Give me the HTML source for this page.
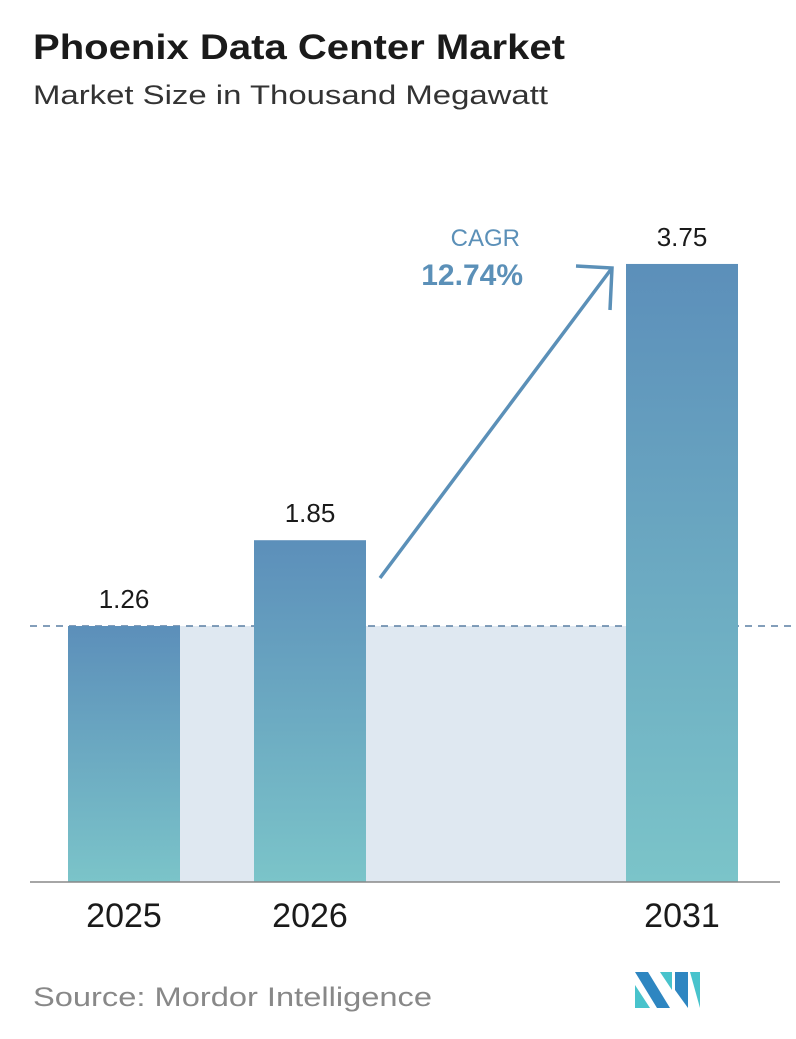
<!DOCTYPE html>
<html><head><meta charset="utf-8"><style>
body{margin:0;width:796px;height:1034px;background:#fff;font-family:"Liberation Sans",sans-serif;overflow:hidden}
</style></head><body>
<svg width="796" height="1034">
<defs><linearGradient id="g" x1="0" y1="0" x2="0" y2="1"><stop offset="0" stop-color="#5c8fba"/><stop offset="1" stop-color="#7bc4c9"/></linearGradient></defs>
<text x="33" y="59" font-size="35" font-weight="bold" fill="#1a1a1a" textLength="532" lengthAdjust="spacingAndGlyphs">Phoenix Data Center Market</text>
<text x="33" y="104" font-size="27" fill="#333" textLength="515" lengthAdjust="spacingAndGlyphs">Market Size in Thousand Megawatt</text>
<g id="plot"></g>
<text x="33" y="1006" font-size="27" fill="#888" textLength="399" lengthAdjust="spacingAndGlyphs">Source:  Mordor Intelligence</text>
<g>
<polygon points="635,972 648,972 670,1008 657,1008" fill="#2e86c1"/>
<polygon points="635,985 650,1008 635,1008" fill="#48c3cc"/>
<polygon points="660,972 672,972 672,990" fill="#48c3cc"/>
<polygon points="675,972 688,972 688,1008 675,990" fill="#2e86c1"/>
<polygon points="690,972 700,972 700,1008" fill="#48c3cc"/>
</g>
</svg>
<script>
const categories=["2025","2026","2031"];
const values=[1.26,1.85,3.75];
const labels=["1.26","1.85","3.75"];
const cagr="12.74%";
const NS="http://www.w3.org/2000/svg";
const g=document.getElementById('plot');
const base=882, offs=72.8, k=145.4;
const xs=[68,254,626], bw=112;
function y(v){return base-(offs+k*v);}
function mk(t,a){const e=document.createElementNS(NS,t);for(const q in a)e.setAttribute(q,a[q]);g.appendChild(e);return e;}
const dashY=y(values[0]);
const bg=mk('rect',{x:xs[0]+bw,y:dashY,width:xs[2]-xs[0]-bw,height:base-dashY,fill:'#dfe8f1'});


const dl=mk('line',{x1:30,x2:796,y1:dashY,y2:dashY,stroke:'#5a7fa3','stroke-width':1.5,'stroke-dasharray':'7,6'});


categories.forEach((c,i)=>{
 const r=mk('rect',{x:xs[i],y:y(values[i]),width:bw,height:base-y(values[i]),fill:'url(#g)'});
 
 
 const t=mk('text',{x:xs[i]+bw/2,y:y(values[i])-18,'text-anchor':'middle','font-size':26,fill:'#1a1a1a'});
 t.textContent=labels[i];
 
 
 const xt=mk('text',{x:xs[i]+bw/2,y:927,'text-anchor':'middle','font-size':34,fill:'#1a1a1a'});
 xt.textContent=c;
 
 
});
const ax=mk('line',{x1:30,x2:780,y1:base,y2:base,stroke:'#888','stroke-width':1.5});


const ar=mk('path',{d:'M380,578 L612,268 M576,266 L612,268 L610,310',stroke:'#5b90b8','stroke-width':3.5,fill:'none'});


const c1=mk('text',{x:520,y:246,'text-anchor':'end','font-size':24,fill:'#5b90b8'});
c1.textContent='CAGR';


const c2=mk('text',{x:523,y:285,'text-anchor':'end','font-size':30,'font-weight':'bold',fill:'#5b90b8'});
c2.textContent=cagr;


</script>
</body></html>
